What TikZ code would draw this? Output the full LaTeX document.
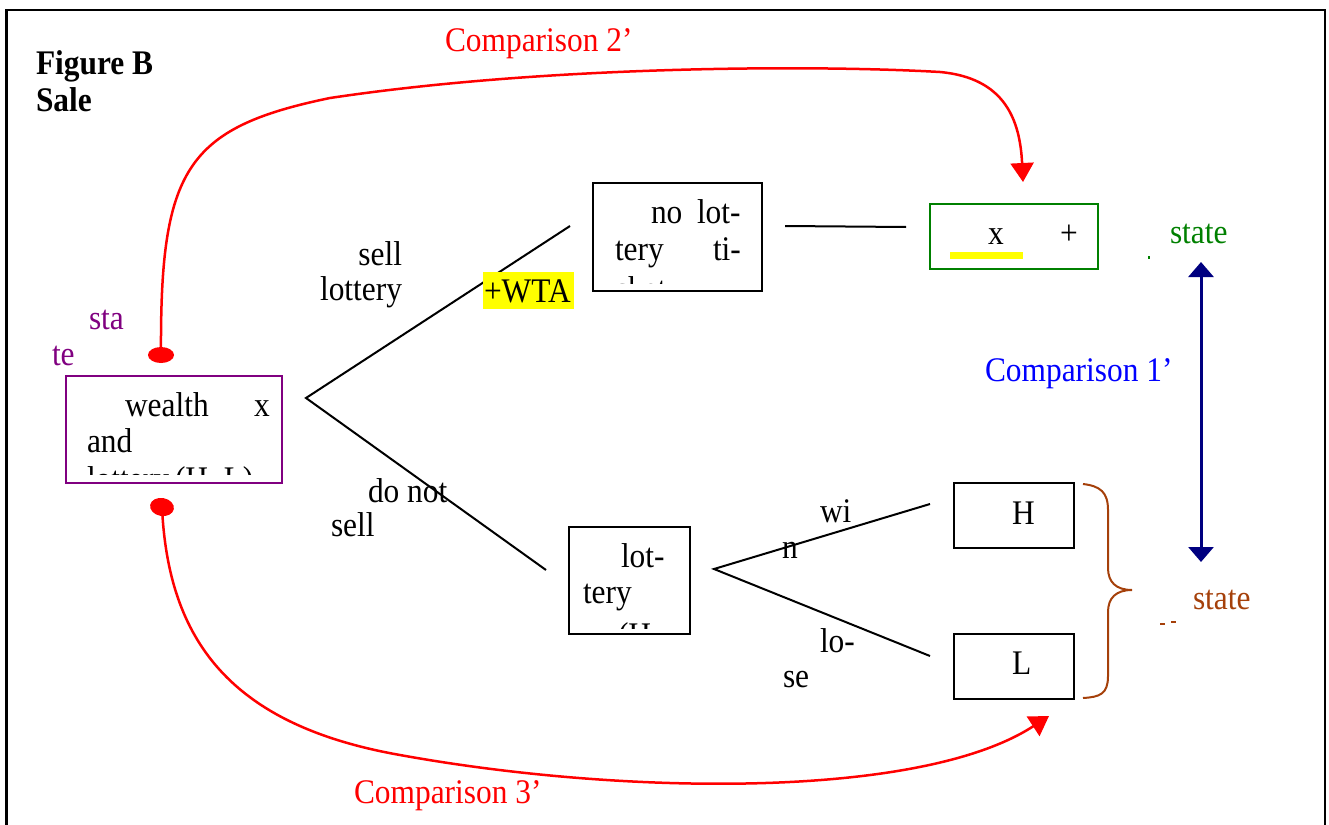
\documentclass[tikz,border=0pt]{standalone}
\usepackage{fontspec}
\setmainfont[FakeStretch=0.91]{Liberation Serif}
\usetikzlibrary{arrows.meta,shapes.geometric}
\definecolor{cred}{RGB}{255,0,0}
\definecolor{cpurple}{RGB}{128,0,128}
\definecolor{cgreen}{RGB}{0,128,0}
\definecolor{cblue}{RGB}{0,0,255}
\definecolor{cnavy}{RGB}{0,0,128}
\definecolor{cbrown}{RGB}{165,64,10}
\definecolor{chl}{RGB}{255,255,0}
\tikzset{
  txt/.style={inner sep=0pt, outer sep=0pt, anchor=base west,
    font=\fontsize{34.5}{40}\selectfont},
  boxnode/.style={draw=black, line width=2pt, inner sep=0pt, outer sep=0pt,
    anchor=north west},
  branch/.style={draw=black, line width=2pt},
  comparrow/.style={draw=cred, line width=2.5pt,
    -{Triangle[length=19pt,width=23pt]}},
  reddot/.style={fill=cred, draw=none, ellipse, inner sep=0pt},
}
\begin{document}
\begin{tikzpicture}[x=1pt,y=-1pt]
\useasboundingbox (0,0) rectangle (1329,824);
% outer frame
\draw[line width=2.2pt] (6.5,840) -- (6.5,10) -- (1325,10) -- (1325,840);

% title
\node[txt, font=\fontsize{34.5}{40}\selectfont\bfseries] (fig) at (36,75) {Figure B};
\node[txt, font=\fontsize{34.5}{40}\selectfont\bfseries] (sale) at (36,111) {Sale};

% boxes
\node[boxnode, draw=cpurple, minimum width=216pt, minimum height=107pt] (start) at (66,376) {};
\node[boxnode, minimum width=169pt, minimum height=108pt] (nolot) at (593,183) {};
\node[boxnode, draw=cgreen, minimum width=168pt, minimum height=65pt] (xbox) at (930,204) {};
\node[boxnode, minimum width=121pt, minimum height=107pt] (lot) at (569,527) {};
\node[boxnode, minimum width=120pt, minimum height=65pt] (hbox) at (954,483) {};
\node[boxnode, minimum width=120pt, minimum height=65pt] (lbox) at (954,634) {};

% text inside the start box
\node[txt] (w1) at (125,416) {wealth};
\node[txt] (w2) at (254,416) {x};
\node[txt] (w3) at (87,452) {and};
\begin{scope}
  \clip (68,378) rectangle (280,474);
  \node[txt] (w4) at (87,490) {lottery};
  \node[txt] (w5) at (175,490) {(H, L)};
\end{scope}

% text inside the "no lottery ticket" box
\node[txt] (n1) at (651,223) {no};
\node[txt] (n2) at (697,223) {lot-};
\node[txt] (n3) at (615,260) {tery};
\node[txt] (n4) at (713,260) {ti-};
\begin{scope}
  \clip (595,185) rectangle (760,283);
  \node[txt] (n5) at (614,300) {cket};
\end{scope}

% text inside the green box
\node[txt] (g1) at (988,244) {x};
\node[txt] (g2) at (1060,244) {+};
\fill[chl] (950,252) rectangle (1023,259);

% text inside the lower lottery box
\node[txt] (l1) at (621,567) {lot-};
\node[txt] (l2) at (583,603) {tery};
\begin{scope}
  \clip (571,529) rectangle (688,628);
  \node[txt] (l3) at (618,646) {(H};
\end{scope}

% outcome boxes
\node[txt] (hh) at (1012,524) {H};
\node[txt] (ll) at (1012,674) {L};

% decision tree branches
\coordinate (v1) at (306,398);
\coordinate (v1a) at (570,226);
\coordinate (v1b) at (546,570);
\draw[branch] (v1a) -- (v1) -- (v1b);
\coordinate (s1) at (785,226);
\coordinate (s2) at (906,227);
\draw[branch] (s1) -- (s2);
\coordinate (v2) at (714,569);
\coordinate (v2a) at (930,504);
\coordinate (v2b) at (930,656);
\draw[branch] (v2a) -- (v2) -- (v2b);

% branch labels
\node[txt, anchor=base east] (sell1) at (402,265) {sell};
\node[txt, anchor=base east] (sell2) at (402,300) {lottery};
\node[fill=chl, inner sep=0pt, minimum width=91pt, minimum height=37pt, anchor=north west] (wtabg) at (483,272) {};
\node[txt] (wta) at (484,302) {+WTA};
\node[txt] (dn1) at (368,502) {do not};
\node[txt] (dn2) at (331,536) {sell};
\node[txt] (win1) at (820,522) {wi};
\node[txt] (win2) at (782,558) {n};
\node[txt] (lose1) at (820,652) {lo-};
\node[txt] (lose2) at (783,687) {se};

% state labels
\node[txt, text=cpurple] (sta) at (89,329) {sta};
\node[txt, text=cpurple] (te) at (52,365) {te};
\node[txt, text=cgreen] (st1) at (1170,243) {state};
\fill[cgreen] (1148,256) rectangle (1150,259);
\node[txt, text=cbrown] (st2) at (1193,609) {state};
\fill[cbrown] (1160,623) rectangle (1165,625);
\fill[cbrown] (1171,621) rectangle (1176,623);

% brace grouping H and L
\draw[cbrown, line width=2pt] (1083,484) .. controls (1100,486) and (1108,492) .. (1108,510)
  -- (1108,568) .. controls (1108,582) and (1116,590) .. (1132,590)
  .. controls (1116,590) and (1108,598) .. (1108,612)
  -- (1108,676) .. controls (1108,694) and (1100,697) .. (1083,698);

% comparison 1
\coordinate (c1top) at (1201,262);
\coordinate (c1bot) at (1201,562);
\draw[cnavy, line width=3pt, {Triangle[length=15pt,width=25pt]}-{Triangle[length=15pt,width=25pt]}] (c1top) -- (c1bot);
\node[txt, text=cblue] (cmp1) at (985,381) {Comparison 1’};

% comparison 2
\node[reddot, minimum width=26pt, minimum height=16pt] (dotA) at (161,355) {};
\coordinate (tip2) at (1023,182);
\draw[comparrow] (dotA.center) .. controls (160,170) and (185,128) .. (330,98)
  .. controls (550,65) and (820,65) .. (940,72)
  .. controls (1005,78) and (1020,120) .. (tip2);
\node[txt, text=cred] (cmp2) at (445,52) {Comparison 2’};

% comparison 3
\node[reddot, minimum width=24pt, minimum height=18pt, rotate=-10] (dotB) at (162,507) {};
\coordinate (tip3) at (1049,716);
\draw[comparrow] (dotB.center) .. controls (168,640) and (230,725) .. (400,755)
  .. controls (620,795) and (920,800) .. (tip3);
\node[txt, text=cred] (cmp3) at (354,803) {Comparison 3’};
\end{tikzpicture}
\end{document}
